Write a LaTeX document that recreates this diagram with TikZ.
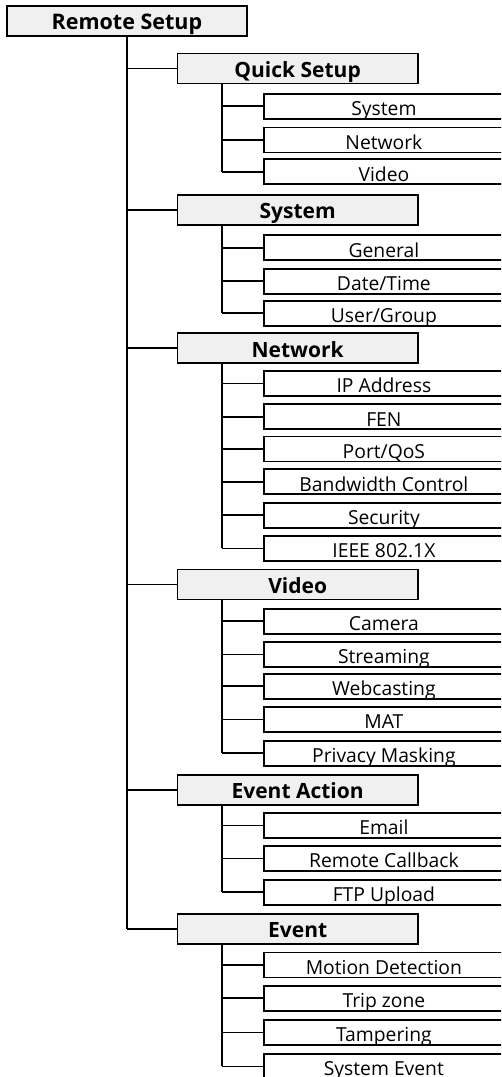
\documentclass[tikz,border=0pt]{standalone}
\usepackage{fontspec}
\setmainfont{Open Sans}
\definecolor{boxgray}{RGB}{240,240,240}
\begin{document}
\begin{tikzpicture}[x=1pt,y=-1pt,
  boxbase/.style={draw=black, line width=1.8pt, inner xsep=0pt, inner ysep=0pt, anchor=north west},
  rootbox/.style={boxbase, fill=boxgray, minimum width=240pt, minimum height=30pt, text height=24pt, text depth=6pt, font=\fontsize{21.5}{22}\selectfont\bfseries},
  lonebox/.style={boxbase, fill=boxgray, minimum width=240.5pt, minimum height=30pt, text height=24pt, text depth=6pt, font=\fontsize{21}{22}\selectfont\bfseries},
  leafbox/.style={boxbase, fill=white, minimum width=240pt, minimum height=25pt, text height=22pt, text depth=3pt, font=\fontsize{19.3}{20}\selectfont},
  conn/.style={draw=black, line width=1.8pt}
]
\useasboundingbox (0,0) rectangle (501,1077);
\clip (0,0) rectangle (501,1077);

\node[rootbox] (root) at (6,5) {Remote Setup};

\node[lonebox] (qs) at (176.5,52.5) {Quick Setup};
\node[leafbox] (qs1) at (263,92.7) {System};
\node[leafbox] (qs2) at (263,126.5) {Network};
\node[leafbox] (qs3) at (263,158.2) {Video};

\node[lonebox] (sy) at (176.5,194) {System};
\node[leafbox] (sy1) at (263,234.3) {General};
\node[leafbox] (sy2) at (263,267.8) {Date/Time};
\node[leafbox] (sy3) at (263,299.7) {User/Group};

\node[lonebox] (nw) at (176.5,332.3) {Network};
\node[leafbox] (nw1) at (263,370) {IP Address};
\node[leafbox] (nw2) at (263,403.3) {FEN};
\node[leafbox] (nw3) at (263,435.5) {Port/QoS};
\node[leafbox] (nw4) at (263,468.3) {Bandwidth Control};
\node[leafbox] (nw5) at (263,501.7) {Security};
\node[leafbox] (nw6) at (263,535) {IEEE 802.1X};

\node[lonebox] (vd) at (176.5,568.5) {Video};
\node[leafbox] (vd1) at (263,607.7) {Camera};
\node[leafbox] (vd2) at (263,641) {Streaming};
\node[leafbox] (vd3) at (263,672.7) {Webcasting};
\node[leafbox] (vd4) at (263,706) {MAT};
\node[leafbox] (vd5) at (263,739.7) {Privacy Masking};

\node[lonebox] (ea) at (176.5,773.7) {Event Action};
\node[leafbox] (ea1) at (263,812) {Email};
\node[leafbox] (ea2) at (263,845) {Remote Callback};
\node[leafbox] (ea3) at (263,878.8) {FTP Upload};

\node[lonebox] (ev) at (176.5,913) {Event};
\node[leafbox] (ev1) at (263,951.5) {Motion Detection};
\node[leafbox] (ev2) at (263,984.7) {Trip zone};
\node[leafbox] (ev3) at (263,1019) {Tampering};
\node[leafbox] (ev4) at (263,1053) {System Event};

% main trunk
\draw[conn] (root.south) -- (root.south |- ev.west);
\foreach \n in {qs,sy,nw,vd,ea,ev}
  \draw[conn] (root.south |- \n.west) -- (\n.west);

% sub trunks
\foreach \p/\last/\kids in {qs/qs3/{qs1,qs2,qs3}, sy/sy3/{sy1,sy2,sy3}, nw/nw6/{nw1,nw2,nw3,nw4,nw5,nw6}, vd/vd5/{vd1,vd2,vd3,vd4,vd5}, ea/ea3/{ea1,ea2,ea3}, ev/ev4/{ev1,ev2,ev3,ev4}}{
  \coordinate (\p T) at ([xshift=45.5pt]\p.south west);
  \draw[conn] (\p T) -- (\p T |- \last.west);
  \foreach \k in \kids
    \draw[conn] (\p T |- \k.west) -- (\k.west);
}
\end{tikzpicture}
\end{document}
